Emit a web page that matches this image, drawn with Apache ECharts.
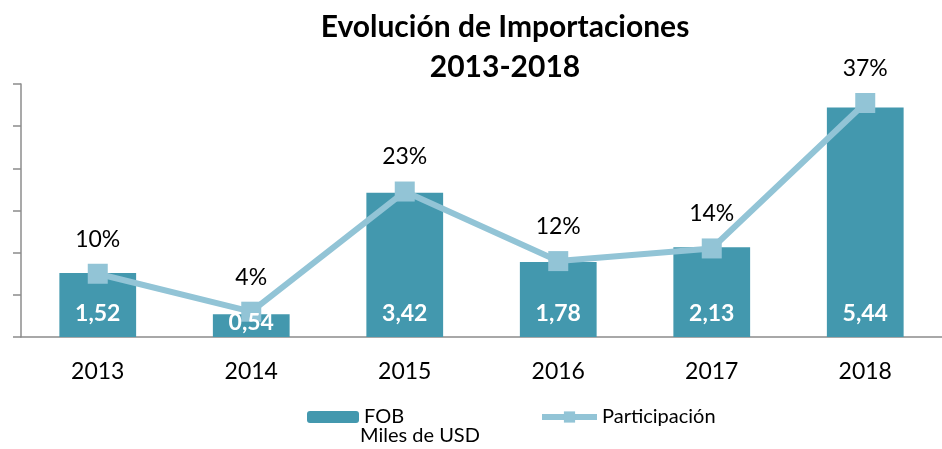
<!DOCTYPE html>
<html>
<head>
<meta charset="utf-8">
<script src="https://cdn.jsdelivr.net/npm/echarts@6/dist/echarts.min.js"></script>
<style>
  html, body { margin: 0; padding: 0; background: #fff; }
  #main { width: 942px; height: 449px; }
</style>
</head>
<body>
<div id="main"></div>
<script>
// datos
var years = ['2013', '2014', '2015', '2016', '2017', '2018'];
var fob = [1.52, 0.54, 3.42, 1.78, 2.13, 5.44];
var participacion = [0.10, 0.04, 0.23, 0.12, 0.14, 0.37];

var font = 'Lato';
var myChart = echarts.init(document.getElementById('main'));

// etiquetas de las barras en una serie aparte, para que queden encima de la línea
var fobLabels = fob.map(function (v) {
    return { value: v, label: { distance: v < 1 ? 3 : 12 } };
});

var option = {
    animation: false,
    textStyle: { fontFamily: font },
    title: {
        text: 'Evolución de Importaciones\n2013-2018',
        left: 500,
        textAlign: 'center',
        top: 2,
        textStyle: { fontFamily: font, fontSize: 30, fontWeight: 'bold', color: '#000', lineHeight: 40 }
    },
    grid: { left: 21, right: 0, top: 84, bottom: 112, containLabel: false },
    legend: [{
        data: ['FOB'],
        left: 302, top: 402,
        itemWidth: 52, itemHeight: 12, itemGap: 6,
        textStyle: { fontFamily: font, fontSize: 20, color: '#000' }
    }, {
        data: ['Participación'],
        left: 534, top: 402,
        itemWidth: 55, itemHeight: 14, itemGap: 4,
        lineStyle: { width: 6 },
        textStyle: { fontFamily: font, fontSize: 20, color: '#000' }
    }],
    graphic: [{
        type: 'text', left: 360, top: 426,
        style: { text: 'Miles de USD', font: '20px Lato', fill: '#000' }
    }],
    xAxis: {
        type: 'category',
        data: years,
        axisLine: { lineStyle: { color: '#8c8c8c', width: 1.5 } },
        axisTick: { show: false },
        axisLabel: { color: '#000', fontSize: 23, fontFamily: font, margin: 23 }
    },
    yAxis: [{
        type: 'value', min: 0, max: 6, interval: 1,
        axisLine: { show: true, lineStyle: { color: '#8c8c8c', width: 1.5 } },
        axisTick: { show: true, inside: false, length: 8, lineStyle: { color: '#8c8c8c', width: 1.5 } },
        axisLabel: { show: false },
        splitLine: { show: false }
    }, {
        type: 'value', min: 0, max: 0.4, interval: 0.1,
        show: false,
        splitLine: { show: false }
    }],
    series: [{
        name: 'FOB',
        type: 'bar',
        data: fob,
        barWidth: '50%',
        z: 1,
        itemStyle: { color: '#4398AE' }
    }, {
        name: 'Participación',
        type: 'line',
        yAxisIndex: 1,
        data: participacion,
        symbol: 'rect',
        symbolSize: 20,
        z: 3,
        itemStyle: { color: '#92C4D6' },
        lineStyle: { color: '#92C4D6', width: 6 },
        label: {
            show: true,
            position: 'top',
            distance: 13,
            color: '#000',
            fontSize: 23,
            fontFamily: font,
            formatter: function (p) { return Math.round(p.value * 100) + '%'; }
        }
    }, {
        name: 'FOB etiquetas',
        type: 'bar',
        data: fobLabels,
        barWidth: '50%',
        barGap: '-100%',
        z: 5,
        silent: true,
        itemStyle: { color: 'rgba(0,0,0,0)' },
        label: {
            show: true,
            position: 'insideBottom',
            color: '#fff',
            fontWeight: 'bold',
            fontSize: 23,
            fontFamily: font,
            formatter: function (p) { return p.value.toFixed(2).replace('.', ','); }
        }
    }]
};

myChart.setOption(option);
</script>
</body>
</html>
